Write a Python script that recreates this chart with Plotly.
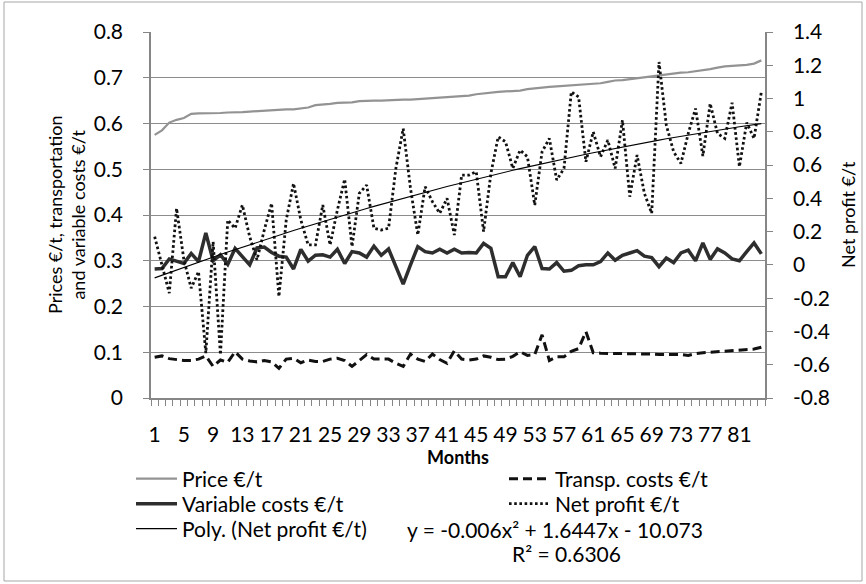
import numpy as np
import plotly.graph_objects as go

# ---- data ---------------------------------------------------------------
months = list(range(1, 85))

price = [0.575, 0.585, 0.602, 0.608, 0.612, 0.621, 0.622, 0.622, 0.623, 0.623,
         0.624, 0.624, 0.625, 0.626, 0.627, 0.628, 0.630, 0.630, 0.631, 0.631,
         0.633, 0.635, 0.640, 0.641, 0.643, 0.645, 0.645, 0.646, 0.649, 0.650,
         0.650, 0.650, 0.651, 0.651, 0.652, 0.652, 0.653, 0.654, 0.655, 0.656,
         0.657, 0.658, 0.659, 0.661, 0.664, 0.666, 0.668, 0.669, 0.670, 0.671,
         0.672, 0.675, 0.677, 0.678, 0.680, 0.681, 0.682, 0.683, 0.684, 0.685,
         0.686, 0.688, 0.691, 0.694, 0.695, 0.697, 0.699, 0.701, 0.703, 0.705,
         0.708, 0.710, 0.711, 0.712, 0.714, 0.716, 0.719, 0.722, 0.725, 0.726,
         0.727, 0.728, 0.731, 0.738]

transport = [0.089, 0.092, 0.086, 0.084, 0.082, 0.082, 0.085, 0.092, 0.069, 0.083,
             0.078, 0.101, 0.085, 0.081, 0.079, 0.082, 0.079, 0.065, 0.085, 0.087,
             0.077, 0.083, 0.080, 0.080, 0.085, 0.087, 0.082, 0.069, 0.083, 0.095,
             0.085, 0.085, 0.085, 0.076, 0.069, 0.096, 0.085, 0.080, 0.096, 0.084,
             0.076, 0.103, 0.085, 0.083, 0.085, 0.092, 0.089, 0.084, 0.085, 0.091,
             0.101, 0.093, 0.095, 0.138, 0.082, 0.090, 0.090, 0.102, 0.108, 0.145,
             0.099, 0.098, 0.097, 0.097, 0.097, 0.097, 0.096, 0.097, 0.096, 0.095,
             0.095, 0.095, 0.095, 0.093, 0.097, 0.099, 0.100, 0.101, 0.103, 0.104,
             0.105, 0.106, 0.107, 0.111]

variable = [0.282, 0.283, 0.304, 0.298, 0.294, 0.316, 0.298, 0.361, 0.300, 0.313,
            0.292, 0.327, 0.309, 0.291, 0.328, 0.330, 0.318, 0.310, 0.308, 0.282,
            0.325, 0.299, 0.312, 0.313, 0.308, 0.325, 0.294, 0.320, 0.317, 0.308,
            0.332, 0.312, 0.326, 0.289, 0.249, 0.291, 0.331, 0.320, 0.317, 0.325,
            0.317, 0.325, 0.317, 0.318, 0.317, 0.338, 0.327, 0.265, 0.265, 0.296,
            0.265, 0.312, 0.331, 0.283, 0.282, 0.296, 0.277, 0.279, 0.289, 0.291,
            0.291, 0.298, 0.317, 0.301, 0.312, 0.317, 0.322, 0.310, 0.307, 0.287,
            0.306, 0.296, 0.317, 0.323, 0.300, 0.339, 0.303, 0.326, 0.317, 0.304,
            0.300, 0.320, 0.339, 0.315]

net_profit = [0.17, 0.00, -0.17, 0.34, 0.03, -0.14, -0.04, -0.53, 0.14, -0.54,
              0.27, 0.22, 0.36, 0.17, 0.03, 0.21, 0.37, -0.19, 0.27, 0.49,
              0.27, 0.12, 0.12, 0.36, 0.12, 0.33, 0.515, 0.11, 0.43, 0.48,
              0.22, 0.21, 0.22, 0.58, 0.82, 0.46, 0.18, 0.47, 0.38, 0.31,
              0.40, 0.18, 0.54, 0.54, 0.56, 0.20, 0.55, 0.77, 0.74, 0.58,
              0.69, 0.65, 0.36, 0.68, 0.76, 0.51, 0.58, 1.04, 1.01, 0.62,
              0.80, 0.65, 0.75, 0.58, 0.87, 0.41, 0.66, 0.43, 0.31, 1.22,
              0.84, 0.68, 0.61, 0.79, 0.94, 0.655, 0.97, 0.79, 0.76, 0.975,
              0.59, 0.855, 0.76, 1.04]

x_label_months = list(range(1, 85, 4))
left_ticks = [0, 0.1, 0.2, 0.3, 0.4, 0.5, 0.6, 0.7, 0.8]
left_tick_text = ["0", "0.1", "0.2", "0.3", "0.4", "0.5", "0.6", "0.7", "0.8"]
right_tick_vals = [-0.8, -0.6, -0.4, -0.2, 0, 0.2, 0.4, 0.6, 0.8, 1.0, 1.2, 1.4]
right_tick_text = ["-0.8", "-0.6", "-0.4", "-0.2", "0", "0.2", "0.4", "0.6",
                   "0.8", "1", "1.2", "1.4"]

left_title = "Prices €/t, transportation<br>and variable costs €/t"
right_title = "Net profit €/t"
equation_text = "y = -0.006x² + 1.6447x - 10.073"
r2_text = "R² = 0.6306"

# second-order polynomial trendline of the net profit series
coef = np.polyfit(months, net_profit, 2)
trend = np.polyval(coef, months)

# ---- styling --------------------------------------------------------------
W, H = 866, 584
L, R, T, B = 151, 101, 32, 186
PW, PH = W - L - R, H - T - B

FONT = "Lato, sans-serif"
AXIS_GREY = "#868686"
LEG_SIZE = 21
TICK_SIZE = 21


def px_x(px):
    """Pixel column -> paper x."""
    return (px - L) / PW


def px_y(py):
    """Pixel row -> paper y."""
    return (H - B - py) / PH


def legend_box(px, py):
    """One single-entry legend, placed in container coordinates."""
    return dict(xref="container", yref="container", x=px / W, y=1 - py / H,
                xanchor="left", yanchor="middle", orientation="v",
                font=dict(size=LEG_SIZE, family=FONT, color="#000000"),
                itemwidth=41, bgcolor="rgba(0,0,0,0)", borderwidth=0)


fig = go.Figure()

fig.add_trace(go.Scatter(x=months, y=price, name="Price €/t", mode="lines",
                         legend="legend",
                         line=dict(color="#939393", width=2.2)))
fig.add_trace(go.Scatter(x=months, y=transport, name="Transp. costs €/t", mode="lines",
                         legend="legend2",
                         line=dict(color="#111111", width=3, dash="9px,5px")))
fig.add_trace(go.Scatter(x=months, y=variable, name="Variable costs €/t", mode="lines",
                         legend="legend3",
                         line=dict(color="#2e2e2e", width=3.5)))
fig.add_trace(go.Scatter(x=months, y=net_profit, name="Net profit €/t", mode="lines",
                         yaxis="y2", legend="legend4",
                         line=dict(color="#111111", width=2.8, dash="2.6px,2.6px")))
fig.add_trace(go.Scatter(x=months, y=trend, name="Poly. (Net profit €/t)", mode="lines",
                         yaxis="y2", legend="legend5",
                         line=dict(color="#000000", width=1.1)))

fig.update_layout(
    width=W, height=H, autosize=False,
    margin=dict(l=L, r=R, t=T, b=B, autoexpand=False),
    paper_bgcolor="white", plot_bgcolor="white",
    font=dict(family=FONT, color="#000000"),
    showlegend=True,
    legend=legend_box(131, 479),
    legend2=legend_box(504, 479),
    legend3=legend_box(131, 504),
    legend4=legend_box(504, 504),
    legend5=legend_box(131, 529),
    xaxis=dict(
        range=[0.5, 84.5], tickmode="array", tickvals=x_label_months,
        ticktext=[str(m) for m in x_label_months], automargin=False,
        ticks="outside", ticklen=0, showgrid=False, zeroline=False,
        showline=True, linecolor=AXIS_GREY, linewidth=1.5,
        tickfont=dict(size=TICK_SIZE, family=FONT), ticklabelstandoff=17,
        minor=dict(tickmode="array", tickvals=[m - 0.5 for m in months] + [84.5],
                   ticks="outside", ticklen=6, tickcolor=AXIS_GREY, tickwidth=1),
        title=dict(text="<b>Months</b>", font=dict(size=18, family=FONT), standoff=5),
    ),
    yaxis=dict(
        range=[0, 0.8], tickmode="array", tickvals=left_ticks, ticktext=left_tick_text,
        ticks="outside", ticklen=6, tickcolor=AXIS_GREY, automargin=False,
        showgrid=True, gridcolor="#8c8c8c", gridwidth=1, zeroline=False,
        showline=True, linecolor=AXIS_GREY, linewidth=1.5,
        tickfont=dict(size=TICK_SIZE, family=FONT), ticklabelstandoff=16,
    ),
    yaxis2=dict(
        range=[-0.8, 1.4], overlaying="y", side="right", anchor="x",
        tickmode="array", tickvals=right_tick_vals, ticktext=right_tick_text,
        ticks="outside", ticklen=6, tickcolor=AXIS_GREY, automargin=False,
        showgrid=False, zeroline=False,
        showline=True, linecolor=AXIS_GREY, linewidth=1.5,
        tickfont=dict(size=TICK_SIZE, family=FONT), ticklabelstandoff=16,
    ),
    annotations=[
        dict(text=left_title, xref="paper", yref="paper", x=px_x(66), y=px_y(215),
             xanchor="center", yanchor="middle", textangle=-90, showarrow=False,
             font=dict(size=18, family=FONT)),
        dict(text=right_title, xref="paper", yref="paper", x=px_x(848), y=px_y(215),
             xanchor="center", yanchor="middle", textangle=-90, showarrow=False,
             font=dict(size=18, family=FONT)),
        dict(text=equation_text, xref="paper", yref="paper", x=px_x(405), y=px_y(529),
             xanchor="left", yanchor="middle", showarrow=False,
             font=dict(size=LEG_SIZE, family=FONT)),
        dict(text=r2_text, xref="paper", yref="paper", x=px_x(566), y=px_y(553),
             xanchor="center", yanchor="middle", showarrow=False,
             font=dict(size=LEG_SIZE, family=FONT)),
    ],
    shapes=[
        dict(type="rect", xref="paper", yref="paper",
             x0=px_x(4), x1=px_x(862), y0=px_y(581), y1=px_y(2),
             line=dict(color="#a6a6a6", width=1), fillcolor="rgba(0,0,0,0)", layer="below"),
    ],
)

fig.write_html("out.html")
